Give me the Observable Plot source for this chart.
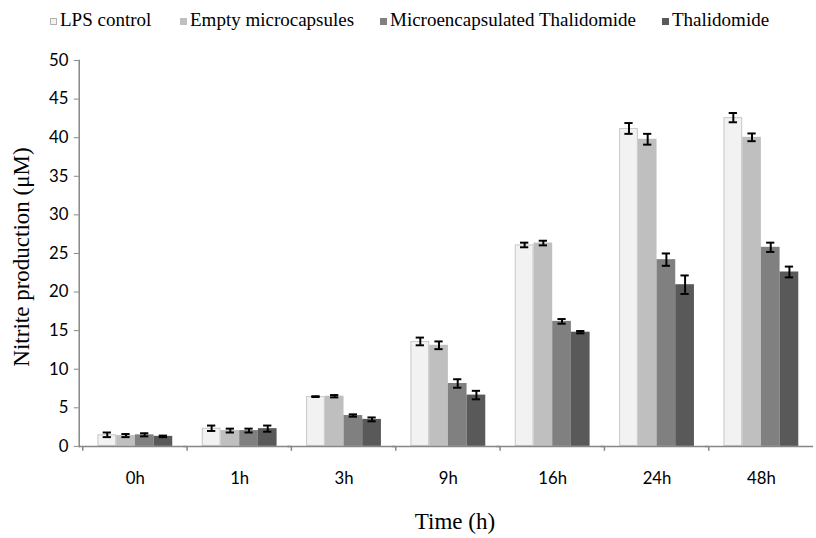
<!DOCTYPE html>
<html>
<head>
<meta charset="utf-8">
<script src="https://cdn.jsdelivr.net/npm/d3@7"></script>
<script src="https://cdn.jsdelivr.net/npm/@observablehq/plot@0.6"></script>
<style>
  html, body { margin: 0; padding: 0; background: #fff; }
  #wrap { position: relative; width: 816px; height: 538px; overflow: hidden; background: #fff; }
  #chart { position: absolute; left: 0; top: 0; }
  .leg { position: absolute; top: 9px; font-family: "Liberation Serif", "Times New Roman", serif; font-size: 19px; color: #000; white-space: nowrap; line-height: 22px; }
  .leg i { display: inline-block; width: 7px; height: 7px; margin-right: 3px; vertical-align: 1px; box-sizing: border-box; }
  .title { position: absolute; font-family: "Liberation Serif", "Times New Roman", serif; font-size: 23px; color: #000; white-space: nowrap; }
</style>
</head>
<body>
<div id="wrap">
  <div id="chart"></div>
  <div id="legend"></div>
  <div class="title" id="ytitle"></div>
  <div class="title" id="xtitle"></div>
</div>
<script>
// ---- data ----
const times = ["0h", "1h", "3h", "9h", "16h", "24h", "48h"];
const series = ["LPS control", "Empty microcapsules", "Microencapsulated Thalidomide", "Thalidomide"];
const lpsControl      = [1.5, 2.35, 6.45, 13.6, 26.1, 41.2, 42.6];
const lpsControlErr   = [0.3, 0.35, 0.05, 0.5, 0.3, 0.7, 0.6];
const emptyMicro      = [1.4, 2.05, 6.5, 13.1, 26.35, 39.8, 40.05];
const emptyMicroErr   = [0.2, 0.25, 0.15, 0.5, 0.3, 0.7, 0.5];
const microThal       = [1.5, 2.05, 4.0, 8.15, 16.2, 24.2, 25.8];
const microThalErr    = [0.2, 0.25, 0.15, 0.55, 0.3, 0.8, 0.6];
const thalidomide     = [1.3, 2.3, 3.5, 6.65, 14.8, 20.95, 22.6];
const thalidomideErr  = [0.1, 0.4, 0.25, 0.55, 0.15, 1.2, 0.7];
const yTicks = [0, 5, 10, 15, 20, 25, 30, 35, 40, 45, 50];
const xTitle = "Time (h)";
const yTitle = "Nitrite production (μM)";

// ---- styles ----
const fills = ["#f2f2f2", "#bfbfbf", "#808080", "#595959"];
const legendBorders = ["#b0b0b0", "#bfbfbf", "#808080", "#595959"];
const axisColor = "#868686";

const values = [lpsControl, emptyMicro, microThal, thalidomide];
const errors = [lpsControlErr, emptyMicroErr, microThalErr, thalidomideErr];
const data = times.flatMap((t, i) => series.map((s, j) => ({time: t, series: s, value: values[j][i], err: errors[j][i]})));

const W = 829, mL = 81, mR = 0;
const halfBand = (W - mL - mR) / times.length / 2;

const chart = Plot.plot({
  width: W,
  height: 538,
  marginTop: 61,
  marginBottom: 85,
  marginLeft: mL,
  marginRight: mR,
  style: {fontFamily: "Lato", background: "transparent", overflow: "visible"},
  fx: {domain: times, padding: 0, axis: null, label: null},
  x: {domain: series, paddingInner: 0, paddingOuter: 0.73, axis: null},
  y: {domain: [0, 50], axis: null},
  color: {domain: series, range: fills},
  marks: [
    Plot.barY(data, {fx: "time", x: "series", y: "value", fill: "series"}),
    Plot.barY(data.filter(d => d.series === series[0]), {fx: "time", x: "series", y: "value", fill: "none", stroke: "#c8c8c8", strokeWidth: 1, inset: 0.5}),
    Plot.ruleX(data, {fx: "time", x: "series", y1: d => d.value - d.err, y2: d => d.value + d.err, stroke: "#000", strokeWidth: 2}),
    Plot.tickY(data, {fx: "time", x: "series", y: d => d.value + d.err, stroke: "#000", strokeWidth: 2, insetLeft: 5.3, insetRight: 5.3}),
    Plot.tickY(data, {fx: "time", x: "series", y: d => d.value - d.err, stroke: "#000", strokeWidth: 2, insetLeft: 5.3, insetRight: 5.3}),
    Plot.ruleY([0], {stroke: axisColor, strokeWidth: 1.5, insetLeft: -4}),
    Plot.frame({anchor: "left", facetAnchor: "left", stroke: axisColor, strokeWidth: 1.5, dx: -4}),
    Plot.axisY({ticks: yTicks, tickSize: 5, tickPadding: 6, stroke: axisColor, fill: "#000", fontSize: 17, fontFamily: "Lato", label: null, dx: -4}),
    Plot.axisFx({anchor: "bottom", tickSize: 5, fill: "none", stroke: axisColor, strokeWidth: 1.5, label: null, dx: -halfBand}),
    Plot.axisFx({anchor: "bottom", tickSize: 0, tickPadding: 26, fontSize: 17, fontFamily: "Lato", fill: "#000", label: null})
  ]
});
document.getElementById("chart").appendChild(chart);

// ---- legend ----
const legendLeft = [50, 180, 380, 662];
const legend = document.getElementById("legend");
series.forEach((s, j) => {
  const el = document.createElement("div");
  el.className = "leg";
  el.style.left = legendLeft[j] + "px";
  const sw = document.createElement("i");
  sw.style.background = fills[j];
  sw.style.border = "1px solid " + legendBorders[j];
  el.appendChild(sw);
  el.appendChild(document.createTextNode(s));
  legend.appendChild(el);
});

// ---- titles ----
const yt = document.getElementById("ytitle");
yt.textContent = yTitle;
yt.style.left = "22px"; yt.style.top = "257px";
yt.style.transform = "translate(-50%, -50%) rotate(-90deg)";
const xt = document.getElementById("xtitle");
xt.textContent = xTitle;
xt.style.left = "455px"; xt.style.top = "522px";
xt.style.transform = "translate(-50%, -50%)";
</script>
</body>
</html>
